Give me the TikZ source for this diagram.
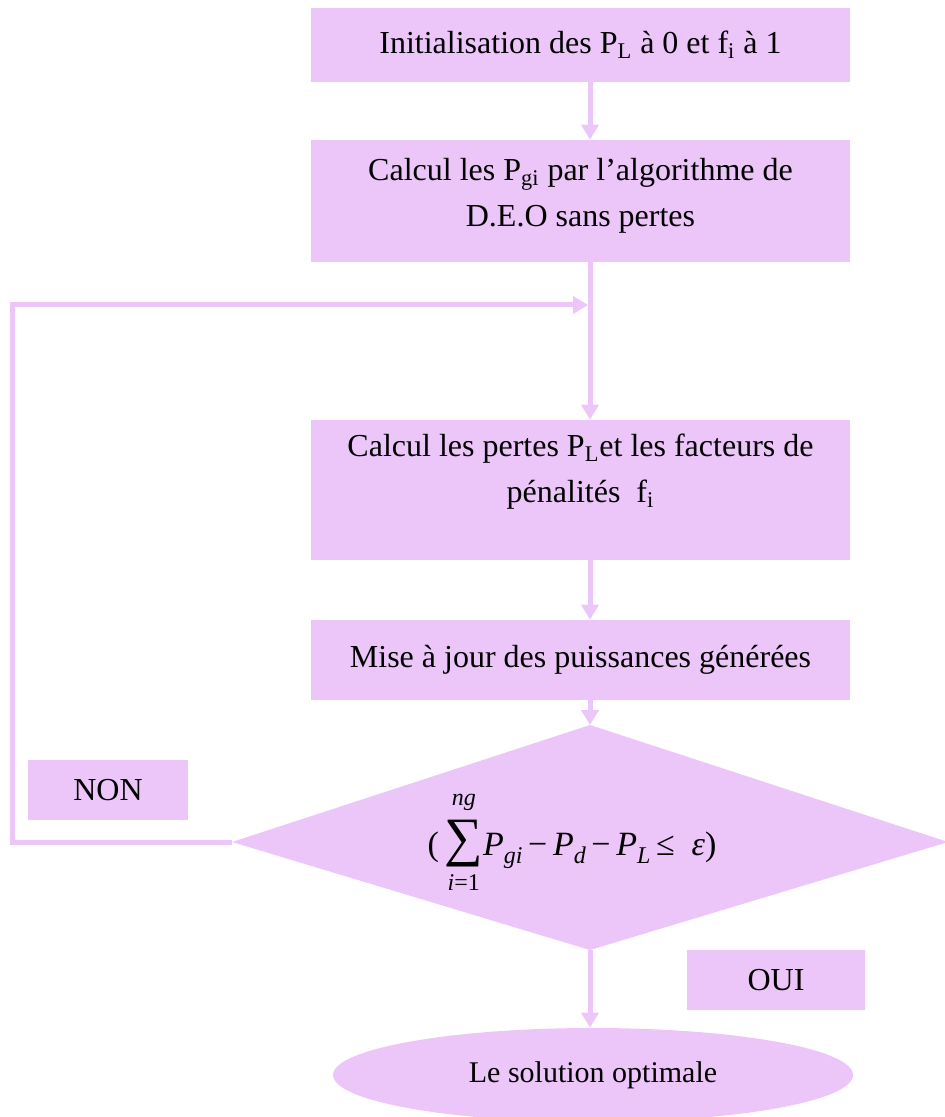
\documentclass[tikz,border=0pt]{standalone}
\usepackage{fontspec}
\setmainfont{Liberation Serif}
\usetikzlibrary{arrows.meta,shapes.geometric}
\definecolor{lilac}{RGB}{236,197,249}
\newcommand{\limtext}[1]{\hbox{\fontsize{12}{12}\selectfont #1}}
\begin{document}
\begin{tikzpicture}[x=0.5pt,y=-0.5pt,
  box/.style={fill=lilac, draw=none, inner sep=0pt, minimum width=269.5pt,
    font=\fontsize{16}{23}\selectfont, align=center},
  tag/.style={fill=lilac, draw=none, inner sep=0pt, minimum height=30pt,
    font=\fontsize{16}{19}\selectfont},
  flow/.style={draw=lilac, line width=2.5pt, line join=miter,
    -{Triangle[length=7.5pt,width=8.5pt]}}]
\useasboundingbox (0,0) rectangle (944,1117);

% process boxes
\node[box, minimum height=37pt] (b1) at (580.5,45)
  {Initialisation des P\textsubscript{L} à 0 et f\textsubscript{i} à 1};
\node[box, minimum height=61pt] (b2) at (580.5,201)
  {\raisebox{3.25pt}[\height][\depth]{\begin{tabular}{@{}c@{}}Calcul les P\textsubscript{gi} par l’algorithme de\\D.E.O sans pertes\end{tabular}}};
\node[box, minimum height=70pt] (b3) at (580.5,490)
  {\raisebox{10pt}[\height][\depth]{\begin{tabular}{@{}c@{}}Calcul les pertes P\textsubscript{L}et les facteurs de\\pénalités~~f\textsubscript{i}\end{tabular}}};
\node[box, minimum height=40pt] (b4) at (580.5,660)
  {Mise à jour des puissances générées};

% decision diamond
\coordinate (dtop) at (590,725);
\coordinate (dright) at (948,842);
\coordinate (dbottom) at (590,950);
\coordinate (dleft) at (232,842);
\fill[lilac] (dtop) -- (dright) -- (dbottom) -- (dleft) -- cycle;
\node[inner sep=0pt, font=\fontsize{17}{20}\selectfont] (cond) at (572,842)
  {(\,$\displaystyle\mathop{\hbox{\fontsize{27}{27}\selectfont ∑}}\limits^{\vbox{\limtext{\itshape ng}\kern3pt}}_{\vbox{\kern2pt\limtext{\itshape i\upshape =1}}}$\textit{P}\raisebox{-4pt}{\fontsize{12}{12}\selectfont\itshape gi}\,−\,\textit{P}\raisebox{-4pt}{\fontsize{12}{12}\selectfont\itshape d}\,−\,\textit{P}\raisebox{-4pt}{\fontsize{12}{12}\selectfont\itshape L}\,≤~~\textit{ε})};

% branch labels
\node[tag, minimum width=80pt] (non) at (108,790) {NON};
\node[tag, minimum width=89pt] (oui) at (776,980) {OUI};

% final state
\node[ellipse, fill=lilac, inner sep=0pt, minimum width=260pt, minimum height=47pt,
  font=\fontsize{15}{18}\selectfont] (fin) at (593,1075) {Le solution optimale};

% connectors
\coordinate (axis) at (590,0);
\coordinate (cornerA) at (12,842);
\coordinate (cornerB) at (12,305);
\coordinate (join) at (588,305);
\draw[flow] (b1.south -| axis) -- (b2.north -| axis);
\draw[flow] (b2.south -| axis) -- (b3.north -| axis);
\draw[flow] (b3.south -| axis) -- (b4.north -| axis);
\draw[flow] (b4.south -| axis) -- (dtop);
\draw[flow] (dleft) -- (cornerA) -- (cornerB) -- (join);
\draw[flow] (dbottom) -- (fin.north -| dbottom);
\end{tikzpicture}
\end{document}
